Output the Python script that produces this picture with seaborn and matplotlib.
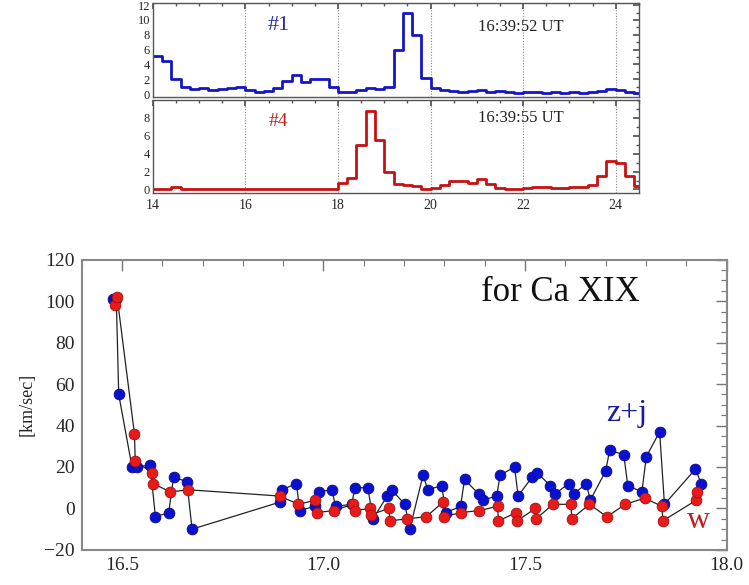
import numpy as np
import pandas as pd
import matplotlib
matplotlib.use("Agg")
import matplotlib.pyplot as plt
import seaborn as sns
from matplotlib.ticker import MultipleLocator

sns.set_theme(style="white")
plt.rcParams['font.family'] = ['Liberation Serif', 'DejaVu Serif']

# ---------------- top panels: spectra (bin width 0.2, first bin starts at 14.0)
spec_start = 14.0
spec_width = 0.2
counts_1 = [5.2, 4.5, 2.0, 1.0, 0.7, 0.8, 0.5, 0.7, 0.8, 1.0,
            0.5, 0.3, 0.4, 0.8, 1.8, 2.6, 1.6, 2.0, 2.0, 1.0,
            0.3, 0.3, 0.6, 0.8, 0.7, 1.0, 6.0, 11.0, 8.0, 2.2,
            0.8, 0.6, 0.4, 0.3, 0.4, 0.5, 0.3, 0.4, 0.3, 0.2,
            0.3, 0.3, 0.2, 0.3, 0.2, 0.3, 0.2, 0.3, 0.4, 0.7,
            0.5, 0.3, 0.2]
counts_4 = [0.1, 0.1, 0.3, 0.1, 0.1, 0.05, 0.1, 0.0, 0.1, 0.05,
            0.1, 0.0, 0.05, 0.1, 0.0, 0.1, 0.05, 0.1, 0.1, 0.1,
            0.7, 1.3, 5.0, 8.8, 5.5, 2.0, 0.6, 0.5, 0.4, 0.1,
            0.2, 0.5, 0.9, 1.0, 0.7, 1.2, 0.6, 0.2, 0.1, 0.1,
            0.2, 0.3, 0.3, 0.2, 0.2, 0.3, 0.3, 0.5, 1.5, 3.2,
            3.0, 1.5, 0.4]
spec_xticks = [14, 16, 18, 20, 22, 24]
spec_grid = [16, 18, 20, 22, 24]

# ---------------- bottom panel: velocities
zj_x = [16.479, 16.486, 16.492, 16.525, 16.537, 16.570, 16.583, 16.616, 16.628, 16.661,
        16.674, 16.891, 16.897, 16.933, 16.941, 16.978, 16.988, 17.021, 17.030, 17.070,
        17.078, 17.110, 17.123, 17.158, 17.169, 17.202, 17.214, 17.247, 17.259, 17.293,
        17.304, 17.340, 17.350, 17.385, 17.395, 17.430, 17.438, 17.474, 17.483, 17.517,
        17.531, 17.563, 17.575, 17.608, 17.621, 17.652, 17.662, 17.700, 17.710, 17.745,
        17.755, 17.790, 17.801, 17.834, 17.846, 17.923, 17.937]
zj_v = [101, 101, 55, 20, 20, 21, -4, -2, 15, 13,
        -10, 3, 9, 12, -1, 1, 8, 9, 1, 2,
        10, 10, -5, 6, 9, 2, -10, 16, 9, 11,
        -2, 1, 14, 7, 4, 6, 16, 20, 6, 15,
        17, 11, 7, 12, 7, 12, 4, 18, 28, 26,
        11, 8, 25, 37, 2, 19, 12]
w_x = [16.483, 16.488, 16.531, 16.533, 16.575, 16.577, 16.620, 16.665, 16.891, 16.938,
       16.980, 16.984, 17.025, 17.073, 17.077, 17.116, 17.118, 17.162, 17.165, 17.207,
       17.255, 17.296, 17.298, 17.341, 17.387, 17.432, 17.434, 17.478, 17.480, 17.526,
       17.528, 17.569, 17.614, 17.616, 17.660, 17.703, 17.749, 17.797, 17.840, 17.842,
       17.925, 17.927]
w_v = [98, 102, 36, 23, 17, 12, 8, 9, 6, 2,
       4, -2, -1, 2, -1, 0, -3, 0, -6, -5,
       -4, 3, -4, -2, -1, 1, -6, -2, -6, 0,
       -5, 2, 2, -5, 2, -4, 2, 5, 1, -6,
       4, 8]
y_ticks = [-20, 0, 20, 40, 60, 80, 100, 120]
x_ticks = [16.5, 17.0, 17.5, 18.0]

fig = plt.figure(figsize=(7.49, 5.85), dpi=100)

# ---- top spectra
def spec_panel(rect, counts, color, label, label_color, label_size, label_y,
               time_txt, time_y, ylim, yticks, show_x):
    ax = fig.add_axes(rect)
    n = len(counts)
    edges = [spec_start + i * spec_width for i in range(n + 1)]
    centers = [spec_start + (i + 0.5) * spec_width for i in range(n)]
    sns.histplot(x=centers, weights=counts, bins=edges, element="step", fill=False,
                 color=color, linewidth=2.0, ax=ax)
    for g in spec_grid:
        ax.axvline(g, color="#888888", linestyle=(0, (1, 1.5)), linewidth=0.8, zorder=0)
    ax.set_xlim(14, 24.5)
    ax.set_ylim(*ylim)
    ax.set_yticks(yticks)
    ax.set_xticks(spec_xticks)
    ax.xaxis.set_minor_locator(MultipleLocator(0.5))
    ax.yaxis.set_minor_locator(MultipleLocator(1))
    ax.tick_params(which="both", direction="in", top=True, right=True, color="#555555",
                   labelsize=9, pad=2)
    ax.tick_params(axis="x", labelsize=10, pad=4)
    ax.tick_params(which="major", length=4)
    ax.tick_params(which="minor", length=2)
    if not show_x:
        ax.set_xticklabels([])
    ax.set_xlabel("")
    ax.set_ylabel("")
    for s in ax.spines.values():
        s.set_color("#555555")
        s.set_linewidth(1.0)
    ax.text(16.72, label_y, label, color=label_color, fontsize=label_size,
            ha="center", va="center")
    ax.text(21.95, time_y, time_txt, color="#222222", fontsize=12, ha="center", va="center")
    return ax

spec_panel([0.204, 0.834, 0.649, 0.161], counts_1, "#1515c8", "#1", "#2a2aa8", 16, 9.3,
           "16:39:52 UT", 9.0, (-0.4, 12.3), [0, 2, 4, 6, 8, 10, 12], False)
spec_panel([0.204, 0.670, 0.649, 0.159], counts_4, "#c81010", "#4", "#c02020", 14, 7.65,
           "16:39:55 UT", 8.0, (-0.4, 10.0), [0, 2, 4, 6, 8], True)

# ---- bottom velocities
ax = fig.add_axes([0.109, 0.060, 0.861, 0.496])
df_zj = pd.DataFrame({"x": zj_x, "v": zj_v})
df_w = pd.DataFrame({"x": w_x, "v": w_v})
sns.lineplot(data=df_zj, x="x", y="v", estimator=None, sort=False, color="#222222",
             linewidth=0.9, ax=ax, zorder=1)
sns.lineplot(data=df_w, x="x", y="v", estimator=None, sort=False, color="#222222",
             linewidth=0.9, ax=ax, zorder=1)
sns.scatterplot(data=df_zj, x="x", y="v", color="#0a10d0", edgecolor="#0a0a90", s=60,
                linewidth=0.6, ax=ax, zorder=3)
sns.scatterplot(data=df_w, x="x", y="v", color="#e81a1a", edgecolor="#a01010", s=60,
                linewidth=0.6, ax=ax, zorder=3)
ax.set_xlim(16.4, 18.0)
ax.set_ylim(-20, 120)
ax.set_xticks(x_ticks)
ax.set_xticklabels(["16.5", "17.0", "17.5", "18.0"])
ax.set_yticks(y_ticks)
ax.xaxis.set_minor_locator(MultipleLocator(0.1))
ax.yaxis.set_minor_locator(MultipleLocator(5))
ax.tick_params(which="both", direction="in", top=True, right=True, color="#777777",
               labelsize=14, pad=5)
ax.tick_params(which="major", length=8, width=1.0)
ax.tick_params(which="minor", length=4, width=0.8)
ax.set_xlabel("")
ax.set_ylabel("[km/sec]", fontsize=13, labelpad=6)
for s in ax.spines.values():
    s.set_color("#888888")
    s.set_linewidth(1.5)
ax.text(17.785, 104, "for Ca XIX", fontsize=25, ha="right", va="center", color="#111111")
ax.text(17.753, 46, "z+j", fontsize=23, ha="center", va="center", color="#1a1aa0")
ax.text(17.93, -6, "w", fontsize=23, ha="center", va="center", color="#c02020")

fig.savefig("out.png", dpi=100)
